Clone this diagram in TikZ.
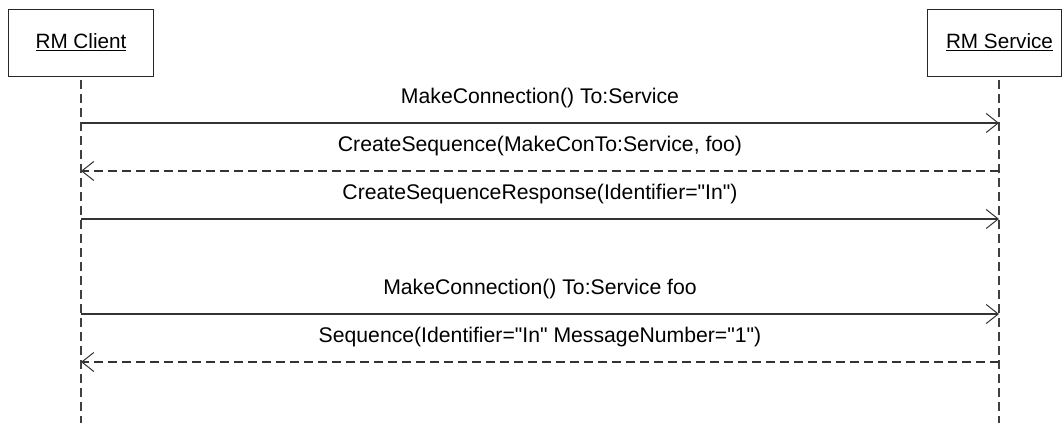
\documentclass[tikz,border=0pt]{standalone}
\usepackage{fontspec}
\setmainfont{Liberation Sans}[Ligatures=TeXOff]
\usetikzlibrary{arrows.meta}
\begin{document}
\begin{tikzpicture}[x=1pt,y=-1pt,
  every node/.style={font=\fontsize{20.7}{24}\selectfont, inner sep=0pt},
  actor/.style={draw=black!85, line width=1pt, fill=white},
  lifeline/.style={draw=black!75, line width=1.2pt, dash pattern=on 9pt off 5pt},
  msg/.style={draw=black!80, line width=1.1pt, -{Straight Barb[length=12pt,width=19pt,line width=1pt]}},
  reply/.style={msg, dash pattern=on 9pt off 5pt},
  lbl/.style={anchor=base, text=black, font=\fontsize{21.2}{24}\selectfont}]
\useasboundingbox (0,0) rectangle (1062,423);
% actors
\draw[actor] (8.5,9.5) rectangle (153,76);
\node (clientlbl) at (81,42.5) {\underline{RM Client}};
\draw[actor] (927,9.5) rectangle (1061.5,76);
\node (servicelbl) at (999.5,42.5) {\underline{RM Service}};
% lifelines
\coordinate (ctop) at (81,80);
\coordinate (cbot) at (81,423);
\coordinate (stop) at (999,80);
\coordinate (sbot) at (999,423);
\draw[lifeline] (ctop) -- (cbot);
\draw[lifeline] (stop) -- (sbot);
% message points
\foreach \n/\y in {1/123,2/171,3/219,4/314,5/362}{
  \coordinate (c\n) at (81,\y);
  \coordinate (s\n) at (999,\y);
}
\draw[msg] (c1) -- (s1);
\node[lbl] (l1) at (540,103) {MakeConnection() To:Service};
\draw[reply] (s2) -- (c2);
\node[lbl] (l2) at (540,151) {CreateSequence(MakeConTo:Service, foo)};
\draw[msg] (c3) -- (s3);
\node[lbl] (l3) at (540,199) {CreateSequenceResponse(Identifier="In")};
\draw[msg] (c4) -- (s4);
\node[lbl] (l4) at (540,294) {MakeConnection() To:Service foo};
\draw[reply] (s5) -- (c5);
\node[lbl] (l5) at (540,342) {Sequence(Identifier="In" MessageNumber="1")};
\end{tikzpicture}
\end{document}
